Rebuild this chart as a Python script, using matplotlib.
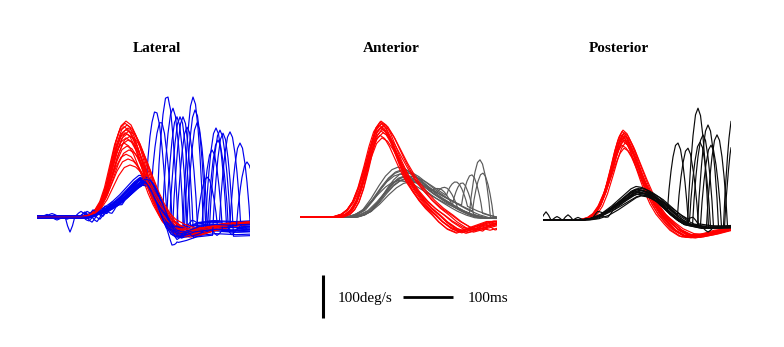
import numpy as np
import matplotlib
matplotlib.use("Agg")
import matplotlib.pyplot as plt

plt.rcParams['font.family'] = ['Liberation Serif', 'DejaVu Serif']

# ---------------- chart text ----------------
titles = ["Lateral", "Anterior", "Posterior"]
scale_v_label = "100deg/s"
scale_t_label = "100ms"
SCALE_V = 100.0   # deg/s
SCALE_T = 100.0   # ms

# ---------------- shape templates (rel. ms, fraction of peak) ----------------
FAST_T = [-21, -18, -14, -10, -5, 0, 5, 10, 14, 18, 21]
FAST_F = [0, 0.28, 0.55, 0.76, 0.94, 1.0, 0.94, 0.76, 0.55, 0.28, 0]
WIG_T = [-10, -5, 0, 5, 10]
WIG_F = [0, 0.6, 1.0, 0.6, 0]
STEP_T = [30, 70]
STEP_F = [0, 1]

LAT_RED_T = [-180, -90, -75, -60, -50, -40, -30, -20, -10, 0, 10, 20, 30, 40, 50, 60, 70, 80, 95, 110, 130, 150, 180, 220, 260]
LAT_RED_F = [0, 0, 0.02, 0.08, 0.17, 0.33, 0.56, 0.79, 0.95, 1.0, 0.96, 0.85, 0.69, 0.51, 0.33, 0.18, 0.06, -0.05, -0.14, -0.2, -0.21, -0.17, -0.12, -0.08, -0.07]
LAT_BLUE_T = [-200, -110, -90, -70, -55, -40, -25, -12, 0, 10, 20, 30, 40, 50, 62, 75, 90, 110, 140, 180, 240]
LAT_BLUE_F = [0, 0, 0.08, 0.2, 0.33, 0.5, 0.7, 0.88, 1.0, 0.97, 0.8, 0.5, 0.2, -0.1, -0.3, -0.35, -0.3, -0.2, -0.15, -0.18, -0.15]

ANT_RED_T = [-200, -85, -70, -60, -50, -40, -30, -20, -10, 0, 10, 20, 30, 40, 55, 70, 85, 100, 115, 130, 150, 170, 200, 240]
ANT_RED_F = [0, 0, 0.03, 0.08, 0.17, 0.32, 0.52, 0.75, 0.93, 1.0, 0.96, 0.86, 0.73, 0.6, 0.43, 0.3, 0.19, 0.1, 0.03, -0.05, -0.13, -0.17, -0.12, -0.05]
ANT_GREY_T = [-200, -100, -85, -70, -55, -40, -25, -12, 0, 15, 30, 45, 60, 80, 100, 120, 140, 160, 190]
ANT_GREY_F = [0, 0, 0.05, 0.15, 0.35, 0.6, 0.82, 0.95, 1.0, 0.96, 0.86, 0.72, 0.58, 0.42, 0.28, 0.15, 0.05, -0.02, -0.03]

POST_RED_T = [-200, -80, -65, -55, -45, -35, -25, -15, -7, 0, 8, 18, 28, 38, 50, 62, 75, 90, 105, 125, 145, 170, 200, 240]
POST_RED_F = [0, 0, 0.03, 0.08, 0.18, 0.34, 0.55, 0.78, 0.93, 1.0, 0.96, 0.84, 0.68, 0.52, 0.34, 0.19, 0.07, -0.03, -0.12, -0.19, -0.2, -0.17, -0.12, -0.1]
POST_BLK_T = [-200, -110, -90, -70, -50, -35, -20, -10, 0, 12, 25, 40, 55, 70, 85, 100, 130, 170, 220]
POST_BLK_F = [0, 0, 0.05, 0.18, 0.4, 0.6, 0.8, 0.93, 1.0, 0.97, 0.87, 0.7, 0.45, 0.2, 0.0, -0.15, -0.25, -0.25, -0.2]

# ---------------- Lateral ----------------
lat_red_tpk = [178, 176, 180, 174, 182, 178, 184, 176, 180, 186, 178, 182, 174, 180, 184, 178, 182, 186]
lat_red_vpk = [223, 218, 214, 210, 207, 203, 200, 196, 193, 188, 184, 179, 172, 165, 156, 146, 135, 121]
lat_red_w = [1.0, 0.95, 1.05, 0.97, 1.08, 1.0, 1.1, 0.93, 1.02, 1.12, 0.98, 1.05, 0.95, 1.0, 1.08, 1.02, 1.1, 1.15]

lat_blue_tpk = [206, 210, 214, 204, 212, 208, 216, 210, 206, 214, 208, 212, 218, 204, 210, 214, 208, 212, 206, 216]
lat_blue_vpk = [90, 86, 82, 94, 78, 88, 84, 80, 92, 76, 85, 89, 81, 87, 74, 91, 83, 79, 86, 88]
lat_blue_off = [2, -2, 0, 3, -3, 1, -1, 2, -2, 0, 3, -3, 1, -1, 0, 2, -2, 1, -1, 0]
lat_blue_post = [-10, 5, -20, -5, -15, 0, -25, -8, -12, 3, -18, -6, -22, -2, -14, -9, -28, 2, -16, -4]
lat_blue_fast_t = [240, 250, 262, 272, 280, 286, 292, 300, 312, 316, 320, 340, 350, 358, 362, 366, 372, 386, 406, 420]
lat_blue_fast_v = [242, 219, 279, 253, 233, 233, 233, 209, 279, 249, 219, 93, 156, 207, 179, 202, 195, 198, 172, 128]
lat_wig_idx = [0, 1, 2, 3, 4, 5, 6, 7, 8, 9, 10, 11, 12, 13, 14, 15, 16, 17, 18, 19, 0, 3, 5, 8, 2, 6, 10, 14,
               11, 12, 13, 15, 16, 17, 18, 19]
lat_wig_t = [66, 96, 110, 88, 128, 140, 118, 150, 104, 136, 160, 280, 300, 330, 390, 400, 270, 310, 360, 150, 340, 300, 380, 410, 20, 40, 30, 60,
             120, 146, 100, 132, 112, 170, 94, 126]
lat_wig_dv = [-37, 14, -14, 10, 16, -12, 12, 10, -10, 14, -10, -15, 12, -18, -14, 12, -16, 10, -12, -12, -14, 10, -15, 12, 6, -6, 5, -5,
              -14, 12, 12, -12, 14, -10, 10, -12]

# ---------------- Anterior ----------------
ant_red_tpk = [162, 160, 164, 162, 158, 166, 162, 160, 164, 162, 166, 160, 164]
ant_red_vpk = [223, 221, 219, 217, 214, 212, 209, 207, 204, 200, 196, 190, 184]
ant_red_w = [1.0, 0.9, 1.15, 0.95, 1.05, 1.2, 0.88, 1.1, 0.92, 1.0, 1.18, 0.95, 1.08]
ant_red_wig_idx = [5, 10, 2]
ant_red_wig_t = [370, 385, 360]
ant_red_wig_dv = [18, 14, 10]

ant_grey_tpk = [196, 204, 210, 200, 216, 206, 212, 198, 220, 208, 202, 214]
ant_grey_vpk = [116, 110, 104, 100, 96, 92, 88, 85, 82, 95, 107, 90]
ant_grey_w = [1.0, 1.1, 0.95, 1.05, 1.15, 0.9, 1.0, 1.08, 1.12, 0.95, 1.02, 1.1]
ant_grey_fast_idx = [0, 2, 4, 6, 8, 10, 11]
ant_grey_fast_t = [284, 294, 314, 326, 344, 360, 366]
ant_grey_fast_v = [63, 67, 81, 79, 98, 133, 102]

# ---------------- Posterior ----------------
post_red_tpk = [160, 158, 162, 160, 156, 164, 160, 158, 162, 160, 164, 158, 162, 160]
post_red_vpk = [209, 206, 203, 200, 198, 195, 192, 189, 186, 183, 179, 174, 167, 196]
post_red_w = [1.0, 0.95, 1.05, 1.0, 0.93, 1.08, 1.0, 0.97, 1.04, 1.1, 1.0, 1.06, 1.12, 0.98]

post_blk_tpk = [186, 192, 188, 196, 184, 190, 194, 188, 198, 186, 192, 190, 196, 188]
post_blk_vpk = [78, 74, 71, 68, 66, 64, 62, 60, 58, 72, 69, 65, 56, 70]
post_blk_w = [1.0, 1.05, 0.95, 1.1, 1.0, 0.92, 1.08, 1.0, 1.12, 0.97, 1.03, 1.06, 0.94, 1.0]
post_blk_fast_idx = [0, 1, 2, 3, 4, 5, 6, 7, 8, 9]
post_blk_fast_t = [270, 290, 310, 314, 320, 330, 336, 348, 382, 384]
post_blk_fast_v = [179, 167, 260, 181, 198, 221, 174, 198, 255, 205]
post_wig_idx = [0, 1, 2, 3, 4, 5, 6, 7, 8, 9]
post_wig_t = [6, 50, 28, 70, 110, 130, 145, 160, 300, 330]
post_wig_dv = [19, 12, 8, 6, 10, -8, 8, 7, 10, -10]

# ---------------- layout (pixels) ----------------
W, H = 784, 347
PX_PER_MS = 0.5
PX_PER_DPS = 0.43
panel_left_px = [37, 300, 543]
panel_right_px = [250, 497, 731]
panel_base_px = [217, 217, 220]
panel_top_px, panel_bottom_px = 80, 258
title_x_px = [157, 391, 619]
title_base_px = 51.7


def shape(t, tpk, vpk, rel_t, frac, w=1.0, off=0.0):
    return off + vpk * np.interp((t - tpk) / w, rel_t, frac)


def add_fast(v, t, tpk, vpk):
    base = np.interp(tpk, t, v)
    return v + (vpk - base) * np.interp(t - tpk, FAST_T, FAST_F)


def add_wig(v, t, tw, dv, width=1.0):
    return v + dv * np.interp((t - tw) / width, WIG_T, WIG_F)


fig = plt.figure(figsize=(W / 100, H / 100), dpi=100)
fig.patch.set_facecolor('white')


def make_axes(i):
    L, R, B = panel_left_px[i], panel_right_px[i], panel_base_px[i]
    ax = fig.add_axes([L / W, 1 - panel_bottom_px / H, (R - L) / W,
                       (panel_bottom_px - panel_top_px) / H])
    tmax = (R - L) / PX_PER_MS
    ax.set_xlim(0, tmax)
    ax.set_ylim(-(panel_bottom_px - B) / PX_PER_DPS, (B - panel_top_px) / PX_PER_DPS)
    ax.axis('off')
    return ax, np.arange(0, tmax + 1.0, 1.0)


LW = 0.85
RED = '#ff0000'

# Lateral (red and blue traces interleaved in drawing order)
ax, t = make_axes(0)
for k, (tp, vp, w) in enumerate(zip(lat_red_tpk, lat_red_vpk, lat_red_w)):
    ax.plot(t, shape(t, tp, vp, LAT_RED_T, LAT_RED_F, w), color=RED, lw=LW,
            zorder=2 + 2 * k * 20 / 18)
for k, (tp, vp, off) in enumerate(zip(lat_blue_tpk, lat_blue_vpk, lat_blue_off)):
    v = shape(t, tp, vp, LAT_BLUE_T, LAT_BLUE_F, 1.0, off)
    v = v + lat_blue_post[k] * np.interp(t - tp, STEP_T, STEP_F)
    for j, tw, dv in zip(lat_wig_idx, lat_wig_t, lat_wig_dv):
        if j == k:
            v = add_wig(v, t, tw, dv)
    v = add_fast(v, t, lat_blue_fast_t[k], lat_blue_fast_v[k])
    ax.plot(t, v, color='#0000ee', lw=LW, zorder=3 + 2 * k)

# Anterior
ax, t = make_axes(1)
for k, (tp, vp, w) in enumerate(zip(ant_grey_tpk, ant_grey_vpk, ant_grey_w)):
    v = shape(t, tp, vp, ANT_GREY_T, ANT_GREY_F, w)
    for j, tf, vf in zip(ant_grey_fast_idx, ant_grey_fast_t, ant_grey_fast_v):
        if j == k:
            v = add_fast(v, t, tf, vf)
    ax.plot(t, v, color='#5a5a5a', lw=LW)
for k, (tp, vp, w) in enumerate(zip(ant_red_tpk, ant_red_vpk, ant_red_w)):
    v = shape(t, tp, vp, ANT_RED_T, ANT_RED_F, w)
    for j, tw, dv in zip(ant_red_wig_idx, ant_red_wig_t, ant_red_wig_dv):
        if j == k:
            v = add_wig(v, t, tw, dv, 2.0)
    ax.plot(t, v, color=RED, lw=LW)

# Posterior
ax, t = make_axes(2)
for tp, vp, w in zip(post_red_tpk, post_red_vpk, post_red_w):
    ax.plot(t, shape(t, tp, vp, POST_RED_T, POST_RED_F, w), color=RED, lw=LW)
for k, (tp, vp, w) in enumerate(zip(post_blk_tpk, post_blk_vpk, post_blk_w)):
    v = shape(t, tp, vp, POST_BLK_T, POST_BLK_F, w)
    for j, tw, dv in zip(post_wig_idx, post_wig_t, post_wig_dv):
        if j == k:
            v = add_wig(v, t, tw, dv)
    for j, tf, vf in zip(post_blk_fast_idx, post_blk_fast_t, post_blk_fast_v):
        if j == k:
            v = add_fast(v, t, tf, vf)
    ax.plot(t, v, color='#0a0a0a', lw=LW)

# Titles
for x, s in zip(title_x_px, titles):
    fig.text(x / W, 1 - title_base_px / H, s, ha='center', va='baseline',
             fontsize=11, fontweight='bold')

# Scale bar overlay (ms horizontally, deg/s vertically)
axb = fig.add_axes([0, 0, 1, 1])
axb.set_xlim(0, W / PX_PER_MS)
axb.set_ylim(0, H / PX_PER_DPS)
axb.axis('off')
vbar_x_px, vbar_bottom_px = 323, 318
hbar_x_px, hbar_y_px = 403, 297
x0 = vbar_x_px / PX_PER_MS
y0 = (H - vbar_bottom_px) / PX_PER_DPS
axb.plot([x0, x0], [y0, y0 + SCALE_V], color='black', lw=2.2, solid_capstyle='butt')
hx = hbar_x_px / PX_PER_MS
hy = (H - hbar_y_px) / PX_PER_DPS
axb.plot([hx, hx + SCALE_T], [hy, hy], color='black', lw=2.0, solid_capstyle='butt')
fig.text(338 / W, 1 - 301.7 / H, scale_v_label, ha='left', va='baseline', fontsize=11)
fig.text(468 / W, 1 - 301.7 / H, scale_t_label, ha='left', va='baseline', fontsize=11)

fig.savefig('out.png', dpi=100, facecolor='white')
